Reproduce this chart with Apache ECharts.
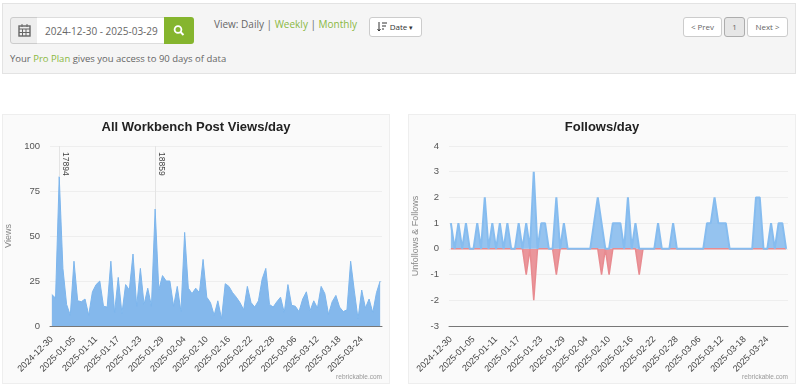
<!DOCTYPE html>
<html>
<head>
<meta charset="utf-8">
<title>Workbench stats</title>
<script src="https://cdn.jsdelivr.net/npm/echarts@6/dist/echarts.min.js"></script>
<style>
    html, body { margin: 0; padding: 0; background: #fff; width: 798px; height: 386px; overflow: hidden; font-family: "Open Sans", sans-serif; color: #666; }
    .abs { position: absolute; box-sizing: border-box; white-space: nowrap; }
    .panel { left: 2px; top: 3px; width: 794px; height: 71px; background: #f5f5f5; border: 1px solid #e3e3e3; }
    .btn { background: #fff; border: 1px solid #ccc; border-radius: 3px; text-align: center; font-size: 8px; line-height: 18px; height: 20px; top: 17px; color: #666; }
    .green { color: #8ab83f; }
    .card { top: 114px; width: 388px; height: 270px; background: #fafafa; border: 1px solid #eee; }
    .chart { position: absolute; left: 0; top: 0; width: 386px; height: 268px; }
    svg { display: block; }
</style>
</head>
<body>
<div class="abs panel"></div>

<div class="abs" style="left:10px;top:17px;width:28px;height:27px;background:#eee;border:1px solid #ccc;border-radius:3px 0 0 3px;">
    <svg width="26" height="25" viewBox="0 0 26 25"><rect x="8" y="8" width="11" height="10" fill="none" stroke="#666" stroke-width="1.4"/><path d="M8 11h11M11 6v3M16 6v3M8 14.5h11M11.5 11v7M15 11v7" stroke="#666" stroke-width="1"/></svg>
</div>
<div class="abs" style="left:37px;top:17px;width:128px;height:27px;background:#fff;border:1px solid #ddd;border-left:0;font-size:10px;line-height:26px;padding-left:8px;color:#666;">2024-12-30 - 2025-03-29</div>
<div class="abs" style="left:164px;top:17px;width:30px;height:27px;background:#85b52e;border-radius:0 3px 3px 0;">
    <svg width="30" height="27" viewBox="0 0 30 27"><circle cx="14" cy="12.5" r="3.4" fill="none" stroke="#fff" stroke-width="1.8"/><path d="M16.5 15l3 3" stroke="#fff" stroke-width="2"/></svg>
</div>
<div class="abs" style="left:214px;top:16px;font-size:10px;line-height:16px;">View: Daily | <span class="green">Weekly</span> | <span class="green">Monthly</span></div>
<div class="abs" style="left:10px;top:51px;font-size:9.500px;line-height:16px;">Your <span class="green">Pro Plan</span> gives you access to 90 days of data</div>

<div class="abs btn" style="left:369px;width:53px;padding-left:12px;color:#333;">Date <span style="font-size:7px;">&#9662;</span></div>
<svg class="abs" style="left:377px;top:22px;" width="10" height="10" viewBox="0 0 10 10"><path d="M2 0v9M0.5 7l1.5 2 1.500-2M5 1h5M5 4h4M5 7h2" stroke="#333" stroke-width="1" fill="none"/></svg>
<div class="abs btn" style="left:683px;width:39px;">&lt; Prev</div>
<div class="abs btn" style="left:724px;width:21px;background:#e6e6e6;border-color:#adadad;">1</div>
<div class="abs btn" style="left:747px;width:41px;">Next &gt;</div>

<div class="abs card" style="left:2px;"><div class="chart" id="chart1"></div></div>
<div class="abs card" style="left:408px;"><div class="chart" id="chart2"></div></div>

<script>
var days = [
    '2024-12-30', '2024-12-31', '2025-01-01', '2025-01-02', '2025-01-03', '2025-01-04', '2025-01-05', '2025-01-06', '2025-01-07', '2025-01-08',
    '2025-01-09', '2025-01-10', '2025-01-11', '2025-01-12', '2025-01-13', '2025-01-14', '2025-01-15', '2025-01-16', '2025-01-17', '2025-01-18',
    '2025-01-19', '2025-01-20', '2025-01-21', '2025-01-22', '2025-01-23', '2025-01-24', '2025-01-25', '2025-01-26', '2025-01-27', '2025-01-28',
    '2025-01-29', '2025-01-30', '2025-01-31', '2025-02-01', '2025-02-02', '2025-02-03', '2025-02-04', '2025-02-05', '2025-02-06', '2025-02-07',
    '2025-02-08', '2025-02-09', '2025-02-10', '2025-02-11', '2025-02-12', '2025-02-13', '2025-02-14', '2025-02-15', '2025-02-16', '2025-02-17',
    '2025-02-18', '2025-02-19', '2025-02-20', '2025-02-21', '2025-02-22', '2025-02-23', '2025-02-24', '2025-02-25', '2025-02-26', '2025-02-27',
    '2025-02-28', '2025-03-01', '2025-03-02', '2025-03-03', '2025-03-04', '2025-03-05', '2025-03-06', '2025-03-07', '2025-03-08', '2025-03-09',
    '2025-03-10', '2025-03-11', '2025-03-12', '2025-03-13', '2025-03-14', '2025-03-15', '2025-03-16', '2025-03-17', '2025-03-18', '2025-03-19',
    '2025-03-20', '2025-03-21', '2025-03-22', '2025-03-23', '2025-03-24', '2025-03-25', '2025-03-26', '2025-03-27', '2025-03-28', '2025-03-29'
];

var views = [
    17.5, 15.5, 83, 32, 12, 6, 36, 14, 13.5, 15,
    6, 19, 23, 25, 11, 10.5, 36, 7.5, 27, 7,
    23, 20, 40, 11, 32, 12, 21, 11, 65, 20,
    28, 25, 25, 11, 22, 8, 52, 21, 18, 21,
    18.5, 37, 16, 13, 6, 14, 4, 23.5, 22, 18.5,
    16, 13, 9, 22, 13, 10.5, 14, 26, 32, 12,
    10.5, 13.5, 16, 7.5, 23, 11.5, 11, 8, 15, 19,
    8.5, 14, 10, 22, 18, 6.5, 13.5, 17, 10.5, 8,
    9, 36, 19.5, 4, 20, 10, 15, 7.5, 18.5, 25
];

var follows = [
    1, 0, 1, 0, 1, 0, 0, 1, 0, 2,
    0, 1, 0, 1, 0, 1, 0, 0, 1, 0,
    1, 0, 3, 0, 1, 1, 0, 0, 2, 0,
    1, 0, 0, 0, 0, 0, 0, 0, 1, 2,
    1, 0, 0, 1, 1, 1, 0, 2, 0, 1,
    0, 0, 0, 0, 0, 1, 0, 0, 0, 1,
    0, 0, 0, 0, 0, 0, 0, 0, 1, 1,
    2, 1, 1, 1, 0, 0, 0, 0, 0, 0,
    0, 2, 2, 0, 0, 1, 0, 1, 1, 0
];

var unfollows = [
    0, 0, 0, 0, 0, 0, 0, 0, 0, 0,
    0, 0, 0, 0, 0, 0, 0, 0, 0, 0,
    -1, 0, -2, 0, 0, 0, 0, 0, -1, 0,
    0, 0, 0, 0, 0, 0, 0, 0, 0, 0,
    -1, 0, -1, 0, 0, 0, 0, 0, 0, 0,
    -1, 0, 0, 0, 0, 0, 0, 0, 0, 0,
    0, 0, 0, 0, 0, 0, 0, 0, 0, 0,
    0, 0, 0, 0, 0, 0, 0, 0, 0, 0,
    0, 0, 0, 0, 0, 0, 0, 0, 0, 0
];

// pinned posts shown as vertical marks on the views chart
var noteDays = ['2025-01-01', '2025-01-27'];
var noteViews = [83, 65];
var noteLabels = ['17894', '18859'];

function baseOption(title, yName, yMin, yMax, yStep) {
    return {
        animation: false,
        backgroundColor: 'transparent',
        title: {
            text: title,
            left: 'center',
            top: 1,
            textStyle: { fontFamily: 'Liberation Sans', fontSize: 13, fontWeight: 'bold', color: '#222' }
        },
        graphic: [{
            type: 'text',
            right: 7,
            bottom: 2,
            style: { text: 'rebrickable.com', fontFamily: 'Liberation Sans', fontSize: 6.500, fill: '#999' }
        }],
        xAxis: {
            type: 'category',
            data: days,
            boundaryGap: true,
            axisTick: { show: false },
            axisLine: { onZero: false, lineStyle: { color: '#777', width: 1 } },
            axisLabel: {
                interval: 5,
                rotate: 45,
                margin: 12,
                fontFamily: 'Liberation Sans',
                fontSize: 9,
                color: '#444'
            }
        },
        yAxis: {
            type: 'value',
            min: yMin,
            max: yMax,
            interval: yStep,
            name: yName,
            nameLocation: 'middle',
            nameRotate: 90,
            nameTextStyle: { fontFamily: 'Liberation Sans', fontSize: 9, color: '#888' },
            axisLine: { show: false },
            axisTick: { show: false },
            axisLabel: { fontFamily: 'Liberation Sans', fontSize: 9.500, color: '#555', margin: 10 },
            splitLine: { show: true, lineStyle: { color: '#eee', width: 1 } }
        }
    };
}

var chart1 = echarts.init(document.getElementById('chart1'));
var option1 = baseOption('All Workbench Post Views/day', 'Views', 0, 100, 25);
option1.grid = { left: 47, right: 7, top: 31, bottom: 57, outerBoundsMode: 'none' };
option1.yAxis.nameGap = 10;

var noteLines = [];
for (var n = 0; n < noteDays.length; n++) {
    noteLines.push([
        { xAxis: noteDays[n], yAxis: 100, label: { formatter: noteLabels[n] } },
        { xAxis: noteDays[n], yAxis: noteViews[n] }
    ]);
}

option1.series = [{
    name: 'Views',
    type: 'line',
    data: views,
    symbol: 'none',
    lineStyle: { color: '#7cb5ec', width: 1 },
    areaStyle: { color: '#84b8ec', opacity: 1 },
    markLine: {
        silent: true,
        symbol: 'none',
        animation: false,
        lineStyle: { color: '#e4e4e4', width: 1, type: 'solid' },
        label: {
            show: true,
            position: 'insideStartTop',
            rotate: -90,
            offset: [11, 3],
            fontFamily: 'Liberation Sans',
            fontSize: 8.500,
            color: '#444'
        },
        data: noteLines
    }
}];
chart1.setOption(option1);

var chart2 = echarts.init(document.getElementById('chart2'));
var option2 = baseOption('Follows/day', 'Unfollows & Follows', -3, 4, 1);
option2.grid = { left: 40, right: 7, top: 31, bottom: 57, outerBoundsMode: 'none' };
option2.yAxis.nameGap = 6;
option2.series = [{
    name: 'Unfollows',
    type: 'line',
    data: unfollows,
    symbol: 'none',
    lineStyle: { color: '#e88b90', width: 1.5 },
    areaStyle: { color: '#e88b90', opacity: 0.9 }
}, {
    name: 'Follows',
    type: 'line',
    data: follows,
    symbol: 'none',
    lineStyle: { color: '#86bcef', width: 2 },
    areaStyle: { color: '#7cb5ec', opacity: 0.8 }
}];
chart2.setOption(option2);
</script>
</body>
</html>
